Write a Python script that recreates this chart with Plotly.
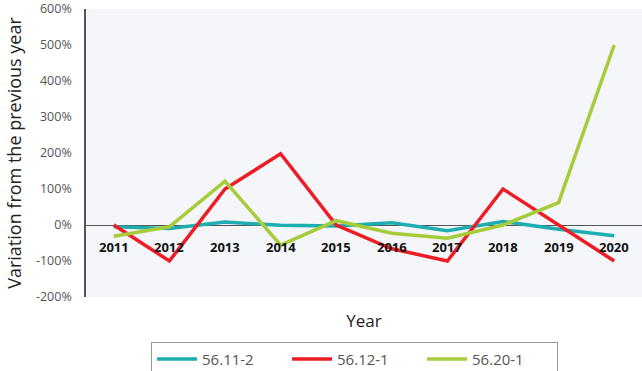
import plotly.graph_objects as go

years = ["2011", "2012", "2013", "2014", "2015", "2016", "2017", "2018", "2019", "2020"]
s_56_11_2 = [-5, -10, 8, -1, -3, 6, -16, 10, -12, -30]
s_56_12_1 = [0, -100, 100, 198, 0, -66, -100, 100, 0, -100]
s_56_20_1 = [-31, -5, 122, -56, 12, -23, -37, 0, 62, 500]
series_names = ["56.11-2", "56.12-1", "56.20-1"]
colors = ["#1eaeb0", "#ee1c25", "#a6cc3a"]
y_ticks = [-200, -100, 0, 100, 200, 300, 400, 500, 600]
y_tick_labels = [f"{v}%" for v in y_ticks]

fig = go.Figure()
for name, vals, col in zip(series_names, [s_56_11_2, s_56_12_1, s_56_20_1], colors):
    fig.add_trace(go.Scatter(x=years, y=vals, mode="lines", name=name,
                             line=dict(color=col, width=3.5)))

for i, yr in enumerate(years):
    fig.add_annotation(x=i, y=-60, text=f"<b>{yr}</b>", showarrow=False,
                       font=dict(size=13, color="#111", family="Open Sans"),
                       xref="x", yref="y")

fig.update_layout(
    width=642, height=371,
    margin=dict(l=86, r=0, t=9, b=74, autoexpand=False),
    paper_bgcolor="white",
    plot_bgcolor="#f4f6f9",
    font=dict(family="Open Sans", color="#444"),
    showlegend=True,
    legend=dict(orientation="h", xref="paper", yref="paper",
                x=0.483, xanchor="center", y=-0.155, yanchor="top",
                bordercolor="#999", borderwidth=1,
                font=dict(size=15, color="#555"),
                entrywidth=80, itemwidth=40,
                bgcolor="white"),
)
fig.update_xaxes(type="category", range=[-0.5, 9.5], showticklabels=False,
                 showgrid=False, zeroline=False, showline=False,
                 title=dict(text="Year", font=dict(size=17, color="#222"), standoff=18))
fig.update_yaxes(range=[-200, 600], tickvals=y_ticks, ticktext=y_tick_labels,
                 showgrid=False, zeroline=True, zerolinecolor="#555", zerolinewidth=1,
                 showline=True, linecolor="#555", linewidth=1.5,
                 ticklabelstandoff=10, ticklabeloverflow="allow",
                 tickfont=dict(size=12.5, color="#555"),
                 title=dict(text="Variation from the previous year",
                            font=dict(size=18, color="#222"), standoff=10))

fig.write_html("out.html", post_script="document.body.style.margin='0';",
               config={"displayModeBar": False})
